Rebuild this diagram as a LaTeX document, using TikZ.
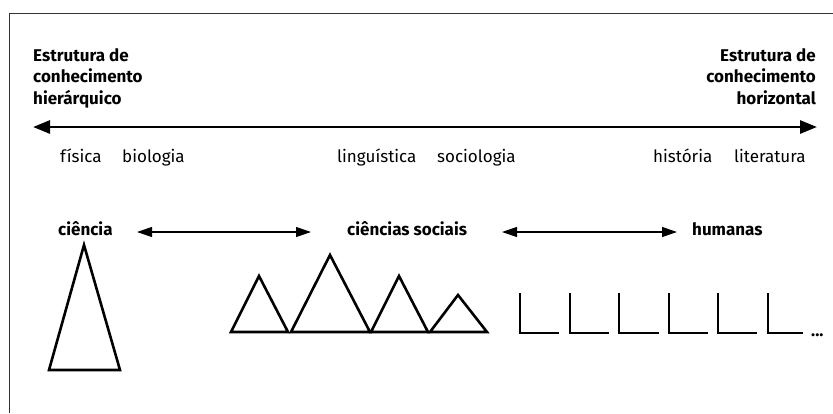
\documentclass[tikz,border=0pt]{standalone}
\usepackage{fontspec}
\setmainfont{Fira Sans}
\usetikzlibrary{arrows.meta}
\begin{document}
\begin{tikzpicture}[x=1pt,y=-1pt,
  lbl/.style={font=\fontsize{17}{21.5}\selectfont, inner sep=0pt, anchor=base west},
  blbl/.style={font=\fontsize{17}{21.5}\selectfont\bfseries, inner sep=0pt, anchor=base west},
  ttl/.style={font=\fontsize{17}{21.5}\selectfont\bfseries, inner sep=0pt, align=left},
  figline/.style={line width=2.6pt, line join=miter},
  bigarrow/.style={line width=2.8pt, {Triangle[length=17pt,width=13pt]}-{Triangle[length=17pt,width=13pt]}},
  smallarrow/.style={line width=1.2pt, {Triangle[length=15pt,width=10pt]}-{Triangle[length=15pt,width=10pt]}}
]
\useasboundingbox (0,0) rectangle (833,413);
% frame
\draw[line width=1pt, black!80] (9,413) -- (9,13) -- (833,13);
% titles
\node[ttl, anchor=base west] (tl) at (33,104) {Estrutura de\\conhecimento\\hierárquico};
\node[ttl, anchor=base east, align=right] (tr) at (816,104) {Estrutura de\\conhecimento\\horizontal};
% main axis
\coordinate (al) at (33,127);
\coordinate (ar) at (817,127);
\draw[bigarrow] (al) -- (ar);
% disciplines
\node[lbl] (fis) at (60,162) {física};
\node[lbl] (bio) at (122,162) {biologia};
\node[lbl] (lin) at (337,162) {linguística};
\node[lbl] (soc) at (437,162) {sociologia};
\node[lbl] (his) at (653,162) {história};
\node[lbl] (lit) at (734,162) {literatura};
% categories
\node[blbl] (cien) at (58,235) {ciência};
\node[blbl] (cs) at (347,235) {ciências sociais};
\node[blbl] (hum) at (692,235) {humanas};
\coordinate (a1l) at (137,232);
\coordinate (a1r) at (311,232);
\coordinate (a2l) at (502,232);
\coordinate (a2r) at (677,232);
\draw[smallarrow] (a1l) -- (a1r);
\draw[smallarrow] (a2l) -- (a2r);
% science triangle
\draw[figline] (84,245) -- (120,370) -- (49,370) -- cycle;
% social sciences triangles
\draw[figline] (259,276) -- (288,332) -- (231,332) -- cycle;
\draw[figline] (330,255) -- (370,332) -- (291,332) -- cycle;
\draw[figline] (399,276) -- (428,332) -- (371,332) -- cycle;
\draw[figline] (458,295) -- (487,332) -- (430,332) -- cycle;
% humanities L shapes
\foreach \x/\w in {520/39, 570/39, 619/40, 669/39, 718/39, 768/35}{
  \draw[line width=2.6pt] (\x,293) -- (\x,333) -- (\x+\w,333);
}
\node[blbl] (dots) at (811,336) {...};
\end{tikzpicture}
\end{document}
